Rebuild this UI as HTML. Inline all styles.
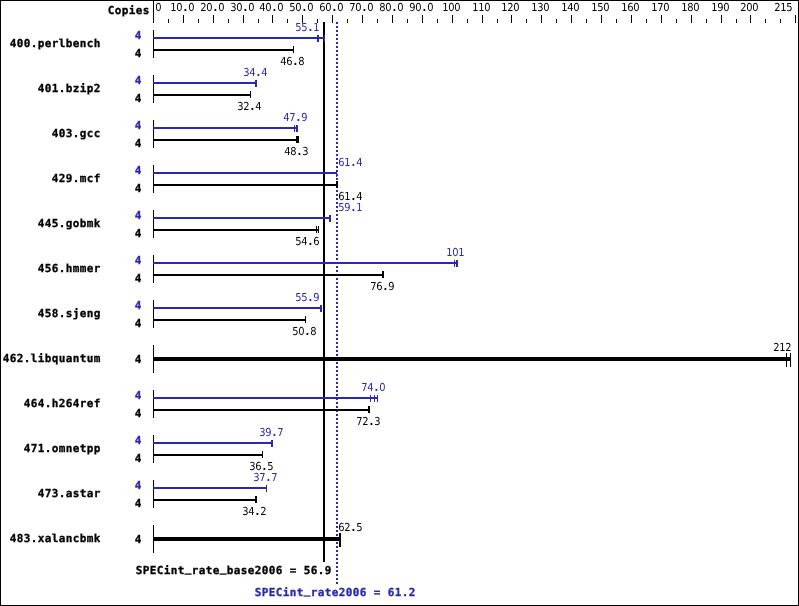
<!DOCTYPE html>
<html><head><meta charset="utf-8"><title>SPECint_rate2006</title>
<style>
html,body{margin:0;padding:0;background:#fff}
svg{display:block;will-change:transform}
text{font-family:"DejaVu Sans Mono","Liberation Mono",monospace;white-space:pre}
.s{font-family:"DejaVu Sans","Liberation Sans",sans-serif;font-size:11.0px}
.b{font-size:11px;letter-spacing:0.378px;font-weight:bold;stroke-width:0.3px}
</style></head><body>
<svg width="799" height="606" viewBox="0 0 799 606" shape-rendering="crispEdges" text-rendering="geometricPrecision">
<rect width="799" height="606" fill="#fff"/>
<rect x="0" y="0" width="799" height="1"/>
<rect x="0" y="605" width="799" height="1"/>
<rect x="0" y="0" width="1" height="606"/>
<rect x="798" y="0" width="1" height="606"/>
<rect x="153" y="0" width="1" height="23"/>
<rect x="168" y="19" width="1" height="4"/>
<rect x="183" y="15" width="1" height="8"/>
<rect x="198" y="19" width="1" height="4"/>
<rect x="213" y="15" width="1" height="8"/>
<rect x="228" y="19" width="1" height="4"/>
<rect x="243" y="15" width="1" height="8"/>
<rect x="258" y="19" width="1" height="4"/>
<rect x="272" y="15" width="1" height="8"/>
<rect x="287" y="19" width="1" height="4"/>
<rect x="302" y="15" width="1" height="8"/>
<rect x="317" y="19" width="1" height="4"/>
<rect x="332" y="15" width="1" height="8"/>
<rect x="347" y="19" width="1" height="4"/>
<rect x="362" y="15" width="1" height="8"/>
<rect x="377" y="19" width="1" height="4"/>
<rect x="392" y="15" width="1" height="8"/>
<rect x="407" y="19" width="1" height="4"/>
<rect x="422" y="15" width="1" height="8"/>
<rect x="437" y="19" width="1" height="4"/>
<rect x="452" y="15" width="1" height="8"/>
<rect x="467" y="19" width="1" height="4"/>
<rect x="482" y="15" width="1" height="8"/>
<rect x="497" y="19" width="1" height="4"/>
<rect x="511" y="15" width="1" height="8"/>
<rect x="526" y="19" width="1" height="4"/>
<rect x="541" y="15" width="1" height="8"/>
<rect x="556" y="19" width="1" height="4"/>
<rect x="571" y="15" width="1" height="8"/>
<rect x="586" y="19" width="1" height="4"/>
<rect x="601" y="15" width="1" height="8"/>
<rect x="616" y="19" width="1" height="4"/>
<rect x="631" y="15" width="1" height="8"/>
<rect x="646" y="19" width="1" height="4"/>
<rect x="661" y="15" width="1" height="8"/>
<rect x="676" y="19" width="1" height="4"/>
<rect x="691" y="15" width="1" height="8"/>
<rect x="706" y="19" width="1" height="4"/>
<rect x="721" y="15" width="1" height="8"/>
<rect x="736" y="19" width="1" height="4"/>
<rect x="750" y="15" width="1" height="8"/>
<rect x="765" y="19" width="1" height="4"/>
<rect x="780" y="19" width="1" height="4"/>
<rect x="795" y="15" width="1" height="8"/>
<text class="s" transform="translate(156,11) scale(0.9,1)" x="-0.72">0</text>
<text class="s" transform="translate(171,11) scale(0.9,1)" x="-0.72 5.95 14.02 19.28">10<tspan font-weight="bold">.</tspan>0</text>
<text class="s" transform="translate(201,11) scale(0.9,1)" x="-0.72 5.95 14.02 19.28">20<tspan font-weight="bold">.</tspan>0</text>
<text class="s" transform="translate(231,11) scale(0.9,1)" x="-0.72 5.95 14.02 19.28">30<tspan font-weight="bold">.</tspan>0</text>
<text class="s" transform="translate(260,11) scale(0.9,1)" x="-0.72 5.95 14.02 19.28">40<tspan font-weight="bold">.</tspan>0</text>
<text class="s" transform="translate(290,11) scale(0.9,1)" x="-0.72 5.95 14.02 19.28">50<tspan font-weight="bold">.</tspan>0</text>
<text class="s" transform="translate(320,11) scale(0.9,1)" x="-0.72 5.95 14.02 19.28">60<tspan font-weight="bold">.</tspan>0</text>
<text class="s" transform="translate(350,11) scale(0.9,1)" x="-0.72 5.95 14.02 19.28">70<tspan font-weight="bold">.</tspan>0</text>
<text class="s" transform="translate(380,11) scale(0.9,1)" x="-0.72 5.95 14.02 19.28">80<tspan font-weight="bold">.</tspan>0</text>
<text class="s" transform="translate(410,11) scale(0.9,1)" x="-0.72 5.95 14.02 19.28">90<tspan font-weight="bold">.</tspan>0</text>
<text class="s" transform="translate(443,11) scale(0.9,1)" x="-0.72 5.95 12.61">100</text>
<text class="s" transform="translate(473,11) scale(0.9,1)" x="-0.72 5.95 12.61">110</text>
<text class="s" transform="translate(502,11) scale(0.9,1)" x="-0.72 5.95 12.61">120</text>
<text class="s" transform="translate(532,11) scale(0.9,1)" x="-0.72 5.95 12.61">130</text>
<text class="s" transform="translate(562,11) scale(0.9,1)" x="-0.72 5.95 12.61">140</text>
<text class="s" transform="translate(592,11) scale(0.9,1)" x="-0.72 5.95 12.61">150</text>
<text class="s" transform="translate(622,11) scale(0.9,1)" x="-0.72 5.95 12.61">160</text>
<text class="s" transform="translate(652,11) scale(0.9,1)" x="-0.72 5.95 12.61">170</text>
<text class="s" transform="translate(682,11) scale(0.9,1)" x="-0.72 5.95 12.61">180</text>
<text class="s" transform="translate(712,11) scale(0.9,1)" x="-0.72 5.95 12.61">190</text>
<text class="s" transform="translate(741,11) scale(0.9,1)" x="-0.72 5.95 12.61">200</text>
<text class="s" transform="translate(775,11) scale(0.9,1)" x="-0.72 5.95 12.61">215</text>
<text class="b" x="107.7" y="14" stroke="#000">Copies</text>
<rect x="323" y="22" width="2" height="540"/>
<rect x="336" y="22" width="2" height="2" fill="#2828b4"/>
<rect x="336" y="26" width="2" height="2" fill="#2828b4"/>
<rect x="336" y="30" width="2" height="2" fill="#2828b4"/>
<rect x="336" y="34" width="2" height="2" fill="#2828b4"/>
<rect x="336" y="38" width="2" height="2" fill="#2828b4"/>
<rect x="336" y="42" width="2" height="2" fill="#2828b4"/>
<rect x="336" y="46" width="2" height="2" fill="#2828b4"/>
<rect x="336" y="50" width="2" height="2" fill="#2828b4"/>
<rect x="336" y="54" width="2" height="2" fill="#2828b4"/>
<rect x="336" y="58" width="2" height="2" fill="#2828b4"/>
<rect x="336" y="62" width="2" height="2" fill="#2828b4"/>
<rect x="336" y="66" width="2" height="2" fill="#2828b4"/>
<rect x="336" y="70" width="2" height="2" fill="#2828b4"/>
<rect x="336" y="74" width="2" height="2" fill="#2828b4"/>
<rect x="336" y="78" width="2" height="2" fill="#2828b4"/>
<rect x="336" y="82" width="2" height="2" fill="#2828b4"/>
<rect x="336" y="86" width="2" height="2" fill="#2828b4"/>
<rect x="336" y="90" width="2" height="2" fill="#2828b4"/>
<rect x="336" y="94" width="2" height="2" fill="#2828b4"/>
<rect x="336" y="98" width="2" height="2" fill="#2828b4"/>
<rect x="336" y="102" width="2" height="2" fill="#2828b4"/>
<rect x="336" y="106" width="2" height="2" fill="#2828b4"/>
<rect x="336" y="110" width="2" height="2" fill="#2828b4"/>
<rect x="336" y="114" width="2" height="2" fill="#2828b4"/>
<rect x="336" y="118" width="2" height="2" fill="#2828b4"/>
<rect x="336" y="122" width="2" height="2" fill="#2828b4"/>
<rect x="336" y="126" width="2" height="2" fill="#2828b4"/>
<rect x="336" y="130" width="2" height="2" fill="#2828b4"/>
<rect x="336" y="134" width="2" height="2" fill="#2828b4"/>
<rect x="336" y="138" width="2" height="2" fill="#2828b4"/>
<rect x="336" y="142" width="2" height="2" fill="#2828b4"/>
<rect x="336" y="146" width="2" height="2" fill="#2828b4"/>
<rect x="336" y="150" width="2" height="2" fill="#2828b4"/>
<rect x="336" y="154" width="2" height="2" fill="#2828b4"/>
<rect x="336" y="158" width="2" height="2" fill="#2828b4"/>
<rect x="336" y="162" width="2" height="2" fill="#2828b4"/>
<rect x="336" y="166" width="2" height="2" fill="#2828b4"/>
<rect x="336" y="170" width="2" height="2" fill="#2828b4"/>
<rect x="336" y="174" width="2" height="2" fill="#2828b4"/>
<rect x="336" y="178" width="2" height="2" fill="#2828b4"/>
<rect x="336" y="182" width="2" height="2" fill="#2828b4"/>
<rect x="336" y="186" width="2" height="2" fill="#2828b4"/>
<rect x="336" y="190" width="2" height="2" fill="#2828b4"/>
<rect x="336" y="194" width="2" height="2" fill="#2828b4"/>
<rect x="336" y="198" width="2" height="2" fill="#2828b4"/>
<rect x="336" y="202" width="2" height="2" fill="#2828b4"/>
<rect x="336" y="206" width="2" height="2" fill="#2828b4"/>
<rect x="336" y="210" width="2" height="2" fill="#2828b4"/>
<rect x="336" y="214" width="2" height="2" fill="#2828b4"/>
<rect x="336" y="218" width="2" height="2" fill="#2828b4"/>
<rect x="336" y="222" width="2" height="2" fill="#2828b4"/>
<rect x="336" y="226" width="2" height="2" fill="#2828b4"/>
<rect x="336" y="230" width="2" height="2" fill="#2828b4"/>
<rect x="336" y="234" width="2" height="2" fill="#2828b4"/>
<rect x="336" y="238" width="2" height="2" fill="#2828b4"/>
<rect x="336" y="242" width="2" height="2" fill="#2828b4"/>
<rect x="336" y="246" width="2" height="2" fill="#2828b4"/>
<rect x="336" y="250" width="2" height="2" fill="#2828b4"/>
<rect x="336" y="254" width="2" height="2" fill="#2828b4"/>
<rect x="336" y="258" width="2" height="2" fill="#2828b4"/>
<rect x="336" y="262" width="2" height="2" fill="#2828b4"/>
<rect x="336" y="266" width="2" height="2" fill="#2828b4"/>
<rect x="336" y="270" width="2" height="2" fill="#2828b4"/>
<rect x="336" y="274" width="2" height="2" fill="#2828b4"/>
<rect x="336" y="278" width="2" height="2" fill="#2828b4"/>
<rect x="336" y="282" width="2" height="2" fill="#2828b4"/>
<rect x="336" y="286" width="2" height="2" fill="#2828b4"/>
<rect x="336" y="290" width="2" height="2" fill="#2828b4"/>
<rect x="336" y="294" width="2" height="2" fill="#2828b4"/>
<rect x="336" y="298" width="2" height="2" fill="#2828b4"/>
<rect x="336" y="302" width="2" height="2" fill="#2828b4"/>
<rect x="336" y="306" width="2" height="2" fill="#2828b4"/>
<rect x="336" y="310" width="2" height="2" fill="#2828b4"/>
<rect x="336" y="314" width="2" height="2" fill="#2828b4"/>
<rect x="336" y="318" width="2" height="2" fill="#2828b4"/>
<rect x="336" y="322" width="2" height="2" fill="#2828b4"/>
<rect x="336" y="326" width="2" height="2" fill="#2828b4"/>
<rect x="336" y="330" width="2" height="2" fill="#2828b4"/>
<rect x="336" y="334" width="2" height="2" fill="#2828b4"/>
<rect x="336" y="338" width="2" height="2" fill="#2828b4"/>
<rect x="336" y="342" width="2" height="2" fill="#2828b4"/>
<rect x="336" y="346" width="2" height="2" fill="#2828b4"/>
<rect x="336" y="350" width="2" height="2" fill="#2828b4"/>
<rect x="336" y="354" width="2" height="2" fill="#2828b4"/>
<rect x="336" y="358" width="2" height="2" fill="#2828b4"/>
<rect x="336" y="362" width="2" height="2" fill="#2828b4"/>
<rect x="336" y="366" width="2" height="2" fill="#2828b4"/>
<rect x="336" y="370" width="2" height="2" fill="#2828b4"/>
<rect x="336" y="374" width="2" height="2" fill="#2828b4"/>
<rect x="336" y="378" width="2" height="2" fill="#2828b4"/>
<rect x="336" y="382" width="2" height="2" fill="#2828b4"/>
<rect x="336" y="386" width="2" height="2" fill="#2828b4"/>
<rect x="336" y="390" width="2" height="2" fill="#2828b4"/>
<rect x="336" y="394" width="2" height="2" fill="#2828b4"/>
<rect x="336" y="398" width="2" height="2" fill="#2828b4"/>
<rect x="336" y="402" width="2" height="2" fill="#2828b4"/>
<rect x="336" y="406" width="2" height="2" fill="#2828b4"/>
<rect x="336" y="410" width="2" height="2" fill="#2828b4"/>
<rect x="336" y="414" width="2" height="2" fill="#2828b4"/>
<rect x="336" y="418" width="2" height="2" fill="#2828b4"/>
<rect x="336" y="422" width="2" height="2" fill="#2828b4"/>
<rect x="336" y="426" width="2" height="2" fill="#2828b4"/>
<rect x="336" y="430" width="2" height="2" fill="#2828b4"/>
<rect x="336" y="434" width="2" height="2" fill="#2828b4"/>
<rect x="336" y="438" width="2" height="2" fill="#2828b4"/>
<rect x="336" y="442" width="2" height="2" fill="#2828b4"/>
<rect x="336" y="446" width="2" height="2" fill="#2828b4"/>
<rect x="336" y="450" width="2" height="2" fill="#2828b4"/>
<rect x="336" y="454" width="2" height="2" fill="#2828b4"/>
<rect x="336" y="458" width="2" height="2" fill="#2828b4"/>
<rect x="336" y="462" width="2" height="2" fill="#2828b4"/>
<rect x="336" y="466" width="2" height="2" fill="#2828b4"/>
<rect x="336" y="470" width="2" height="2" fill="#2828b4"/>
<rect x="336" y="474" width="2" height="2" fill="#2828b4"/>
<rect x="336" y="478" width="2" height="2" fill="#2828b4"/>
<rect x="336" y="482" width="2" height="2" fill="#2828b4"/>
<rect x="336" y="486" width="2" height="2" fill="#2828b4"/>
<rect x="336" y="490" width="2" height="2" fill="#2828b4"/>
<rect x="336" y="494" width="2" height="2" fill="#2828b4"/>
<rect x="336" y="498" width="2" height="2" fill="#2828b4"/>
<rect x="336" y="502" width="2" height="2" fill="#2828b4"/>
<rect x="336" y="506" width="2" height="2" fill="#2828b4"/>
<rect x="336" y="510" width="2" height="2" fill="#2828b4"/>
<rect x="336" y="514" width="2" height="2" fill="#2828b4"/>
<rect x="336" y="518" width="2" height="2" fill="#2828b4"/>
<rect x="336" y="522" width="2" height="2" fill="#2828b4"/>
<rect x="336" y="526" width="2" height="2" fill="#2828b4"/>
<rect x="336" y="530" width="2" height="2" fill="#2828b4"/>
<rect x="336" y="534" width="2" height="2" fill="#2828b4"/>
<rect x="336" y="538" width="2" height="2" fill="#2828b4"/>
<rect x="336" y="542" width="2" height="2" fill="#2828b4"/>
<rect x="336" y="546" width="2" height="2" fill="#2828b4"/>
<rect x="336" y="550" width="2" height="2" fill="#2828b4"/>
<rect x="336" y="554" width="2" height="2" fill="#2828b4"/>
<rect x="336" y="558" width="2" height="2" fill="#2828b4"/>
<rect x="336" y="562" width="2" height="2" fill="#2828b4"/>
<rect x="336" y="566" width="2" height="2" fill="#2828b4"/>
<rect x="336" y="570" width="2" height="2" fill="#2828b4"/>
<rect x="336" y="574" width="2" height="2" fill="#2828b4"/>
<rect x="336" y="578" width="2" height="2" fill="#2828b4"/>
<rect x="336" y="582" width="2" height="2" fill="#2828b4"/>
<rect x="153" y="30" width="1" height="28"/>
<text class="b" x="9.7" y="47" stroke="#000">400.perlbench</text>
<text class="b" x="134.7" y="57" stroke="#000">4</text>
<rect x="153" y="49" width="141" height="2"/>
<rect x="293" y="46" width="1" height="7"/>
<text class="s" transform="translate(281,65) scale(0.9,1)" x="-0.72 5.95 14.02 19.28">46<tspan font-weight="bold">.</tspan>8</text>
<text class="b" x="134.7" y="39" fill="#2828b4" stroke="#2828b4">4</text>
<rect x="153" y="37" width="172" height="2" fill="#2828b4"/>
<rect x="317" y="35" width="2" height="7" fill="#2828b4"/>
<rect x="324" y="35" width="1" height="7" fill="#2828b4"/>
<text class="s" transform="translate(296,31) scale(0.9,1)" x="-0.72 5.95 14.02 19.28" fill="#2828b4">55<tspan font-weight="bold">.</tspan>1</text>
<rect x="153" y="75" width="1" height="28"/>
<text class="b" x="37.7" y="92" stroke="#000">401.bzip2</text>
<text class="b" x="134.7" y="102" stroke="#000">4</text>
<rect x="153" y="94" width="98" height="2"/>
<rect x="250" y="91" width="1" height="7"/>
<text class="s" transform="translate(238,110) scale(0.9,1)" x="-0.72 5.95 14.02 19.28">32<tspan font-weight="bold">.</tspan>4</text>
<text class="b" x="134.7" y="84" fill="#2828b4" stroke="#2828b4">4</text>
<rect x="153" y="82" width="104" height="2" fill="#2828b4"/>
<rect x="255" y="80" width="2" height="7" fill="#2828b4"/>
<text class="s" transform="translate(244,76) scale(0.9,1)" x="-0.72 5.95 14.02 19.28" fill="#2828b4">34<tspan font-weight="bold">.</tspan>4</text>
<rect x="153" y="120" width="1" height="28"/>
<text class="b" x="51.7" y="137" stroke="#000">403.gcc</text>
<text class="b" x="134.7" y="147" stroke="#000">4</text>
<rect x="153" y="139" width="146" height="2"/>
<rect x="296" y="136" width="3" height="7"/>
<text class="s" transform="translate(285,155) scale(0.9,1)" x="-0.72 5.95 14.02 19.28">48<tspan font-weight="bold">.</tspan>3</text>
<text class="b" x="134.7" y="129" fill="#2828b4" stroke="#2828b4">4</text>
<rect x="153" y="127" width="145" height="2" fill="#2828b4"/>
<rect x="294" y="125" width="1" height="7" fill="#2828b4"/>
<rect x="296" y="125" width="2" height="7" fill="#2828b4"/>
<text class="s" transform="translate(284,121) scale(0.9,1)" x="-0.72 5.95 14.02 19.28" fill="#2828b4">47<tspan font-weight="bold">.</tspan>9</text>
<rect x="153" y="165" width="1" height="28"/>
<text class="b" x="51.7" y="182" stroke="#000">429.mcf</text>
<text class="b" x="134.7" y="192" stroke="#000">4</text>
<rect x="153" y="184" width="185" height="2"/>
<rect x="336" y="181" width="2" height="7"/>
<text class="s" transform="translate(339,200) scale(0.9,1)" x="-0.72 5.95 14.02 19.28">61<tspan font-weight="bold">.</tspan>4</text>
<text class="b" x="134.7" y="174" fill="#2828b4" stroke="#2828b4">4</text>
<rect x="153" y="172" width="184" height="2" fill="#2828b4"/>
<rect x="336" y="170" width="1" height="7" fill="#2828b4"/>
<text class="s" transform="translate(339,166) scale(0.9,1)" x="-0.72 5.95 14.02 19.28" fill="#2828b4">61<tspan font-weight="bold">.</tspan>4</text>
<rect x="153" y="210" width="1" height="28"/>
<text class="b" x="37.7" y="227" stroke="#000">445.gobmk</text>
<text class="b" x="134.7" y="237" stroke="#000">4</text>
<rect x="153" y="229" width="166" height="2"/>
<rect x="316" y="226" width="1" height="7"/>
<rect x="318" y="226" width="1" height="7"/>
<text class="s" transform="translate(296,245) scale(0.9,1)" x="-0.72 5.95 14.02 19.28">54<tspan font-weight="bold">.</tspan>6</text>
<text class="b" x="134.7" y="219" fill="#2828b4" stroke="#2828b4">4</text>
<rect x="153" y="217" width="178" height="2" fill="#2828b4"/>
<rect x="329" y="215" width="2" height="7" fill="#2828b4"/>
<text class="s" transform="translate(339,211) scale(0.9,1)" x="-0.72 5.95 14.02 19.28" fill="#2828b4">59<tspan font-weight="bold">.</tspan>1</text>
<rect x="153" y="255" width="1" height="28"/>
<text class="b" x="37.7" y="272" stroke="#000">456.hmmer</text>
<text class="b" x="134.7" y="282" stroke="#000">4</text>
<rect x="153" y="274" width="231" height="2"/>
<rect x="382" y="271" width="2" height="7"/>
<text class="s" transform="translate(371,290) scale(0.9,1)" x="-0.72 5.95 14.02 19.28">76<tspan font-weight="bold">.</tspan>9</text>
<text class="b" x="134.7" y="264" fill="#2828b4" stroke="#2828b4">4</text>
<rect x="153" y="262" width="305" height="2" fill="#2828b4"/>
<rect x="454" y="260" width="1" height="7" fill="#2828b4"/>
<rect x="456" y="260" width="2" height="7" fill="#2828b4"/>
<text class="s" transform="translate(447,256) scale(0.9,1)" x="-0.72 5.95 12.61" fill="#2828b4">101</text>
<rect x="153" y="300" width="1" height="28"/>
<text class="b" x="37.7" y="317" stroke="#000">458.sjeng</text>
<text class="b" x="134.7" y="327" stroke="#000">4</text>
<rect x="153" y="319" width="153" height="2"/>
<rect x="305" y="316" width="1" height="7"/>
<text class="s" transform="translate(293,335) scale(0.9,1)" x="-0.72 5.95 14.02 19.28">50<tspan font-weight="bold">.</tspan>8</text>
<text class="b" x="134.7" y="309" fill="#2828b4" stroke="#2828b4">4</text>
<rect x="153" y="307" width="169" height="2" fill="#2828b4"/>
<rect x="320" y="305" width="2" height="7" fill="#2828b4"/>
<text class="s" transform="translate(296,301) scale(0.9,1)" x="-0.72 5.95 14.02 19.28" fill="#2828b4">55<tspan font-weight="bold">.</tspan>9</text>
<rect x="153" y="345" width="1" height="28"/>
<text class="b" x="2.7" y="362" stroke="#000">462.libquantum</text>
<text class="b" x="134.7" y="363" stroke="#000">4</text>
<rect x="153" y="357" width="638" height="4"/>
<rect x="786" y="353" width="1" height="14"/>
<rect x="790" y="353" width="1" height="14"/>
<text class="s" transform="translate(774,351) scale(0.9,1)" x="-0.72 5.95 12.61">212</text>
<rect x="153" y="390" width="1" height="28"/>
<text class="b" x="23.7" y="407" stroke="#000">464.h264ref</text>
<text class="b" x="134.7" y="417" stroke="#000">4</text>
<rect x="153" y="409" width="217" height="2"/>
<rect x="368" y="406" width="2" height="7"/>
<text class="s" transform="translate(357,425) scale(0.9,1)" x="-0.72 5.95 14.02 19.28">72<tspan font-weight="bold">.</tspan>3</text>
<text class="b" x="134.7" y="399" fill="#2828b4" stroke="#2828b4">4</text>
<rect x="153" y="397" width="225" height="2" fill="#2828b4"/>
<rect x="370" y="395" width="1" height="7" fill="#2828b4"/>
<rect x="374" y="395" width="1" height="7" fill="#2828b4"/>
<rect x="377" y="395" width="1" height="7" fill="#2828b4"/>
<text class="s" transform="translate(362,391) scale(0.9,1)" x="-0.72 5.95 14.02 19.28" fill="#2828b4">74<tspan font-weight="bold">.</tspan>0</text>
<rect x="153" y="435" width="1" height="28"/>
<text class="b" x="23.7" y="452" stroke="#000">471.omnetpp</text>
<text class="b" x="134.7" y="462" stroke="#000">4</text>
<rect x="153" y="454" width="110" height="2"/>
<rect x="262" y="451" width="1" height="7"/>
<text class="s" transform="translate(250,470) scale(0.9,1)" x="-0.72 5.95 14.02 19.28">36<tspan font-weight="bold">.</tspan>5</text>
<text class="b" x="134.7" y="444" fill="#2828b4" stroke="#2828b4">4</text>
<rect x="153" y="442" width="120" height="2" fill="#2828b4"/>
<rect x="271" y="440" width="2" height="7" fill="#2828b4"/>
<text class="s" transform="translate(260,436) scale(0.9,1)" x="-0.72 5.95 14.02 19.28" fill="#2828b4">39<tspan font-weight="bold">.</tspan>7</text>
<rect x="153" y="480" width="1" height="28"/>
<text class="b" x="37.7" y="497" stroke="#000">473.astar</text>
<text class="b" x="134.7" y="507" stroke="#000">4</text>
<rect x="153" y="499" width="104" height="2"/>
<rect x="255" y="496" width="2" height="7"/>
<text class="s" transform="translate(243,515) scale(0.9,1)" x="-0.72 5.95 14.02 19.28">34<tspan font-weight="bold">.</tspan>2</text>
<text class="b" x="134.7" y="489" fill="#2828b4" stroke="#2828b4">4</text>
<rect x="153" y="487" width="114" height="2" fill="#2828b4"/>
<rect x="266" y="485" width="1" height="7" fill="#2828b4"/>
<text class="s" transform="translate(254,481) scale(0.9,1)" x="-0.72 5.95 14.02 19.28" fill="#2828b4">37<tspan font-weight="bold">.</tspan>7</text>
<rect x="153" y="525" width="1" height="28"/>
<text class="b" x="9.7" y="542" stroke="#000">483.xalancbmk</text>
<text class="b" x="134.7" y="543" stroke="#000">4</text>
<rect x="153" y="537" width="188" height="4"/>
<rect x="339" y="533" width="2" height="14"/>
<text class="s" transform="translate(339,531) scale(0.9,1)" x="-0.72 5.95 14.02 19.28">62<tspan font-weight="bold">.</tspan>5</text>
<text class="b" x="135.7" y="574" stroke="#000">SPECint<tspan dy="-2">_</tspan><tspan dy="2">r</tspan>ate<tspan dy="-2">_</tspan><tspan dy="2">b</tspan>ase2006 = 56.9</text>
<text class="b" x="254.7" y="596" fill="#2828b4" stroke="#2828b4">SPECint<tspan dy="-2">_</tspan><tspan dy="2">r</tspan>ate2006 = 61.2</text>
</svg>
</body></html>
